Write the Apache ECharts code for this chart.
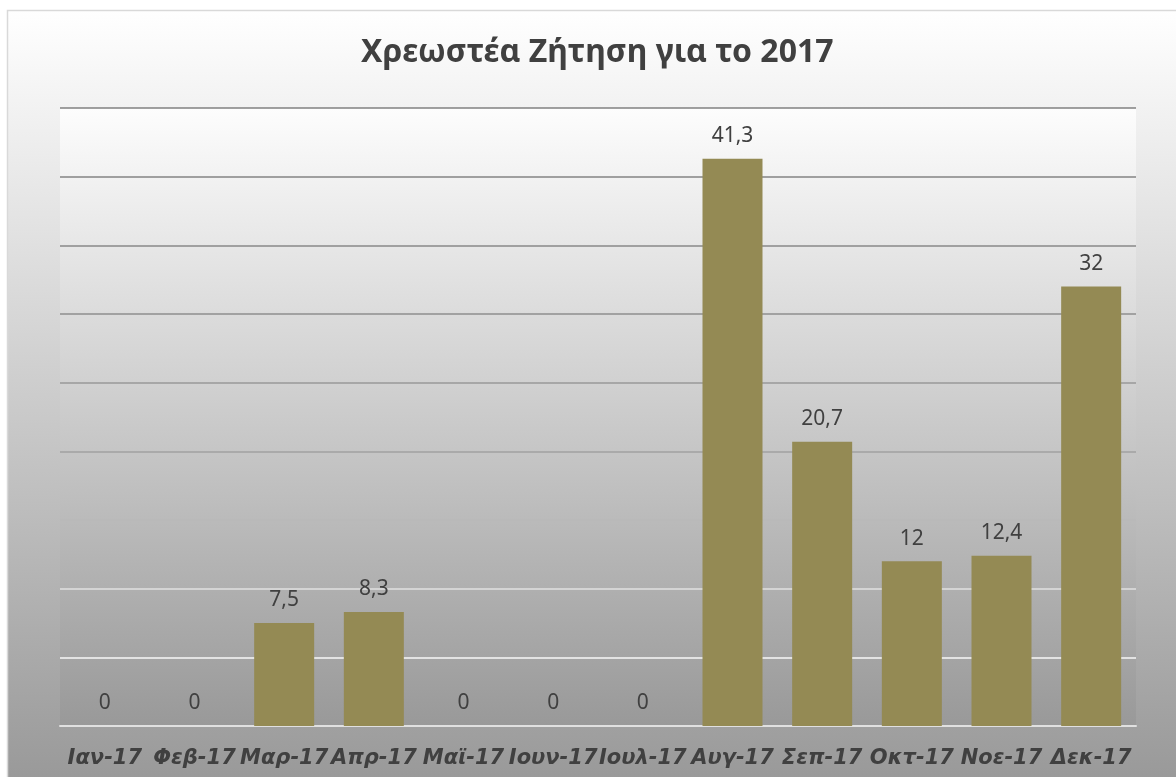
<!DOCTYPE html>
<html>
<head>
<meta charset="utf-8">
<style>
html,body{margin:0;padding:0;background:#fff;}
#chart{width:1176px;height:777px;}
</style>
<script src="https://cdn.jsdelivr.net/npm/echarts@6/dist/echarts.min.js"></script>
</head>
<body>
<div id="chart"></div>
<script>
const titleText = 'Χρεωστέα Ζήτηση για το 2017';
const categories = ['Ιαν-17','Φεβ-17','Μαρ-17','Απρ-17','Μαϊ-17','Ιουν-17','Ιουλ-17','Αυγ-17','Σεπ-17','Οκτ-17','Νοε-17','Δεκ-17'];
const values = [0, 0, 7.5, 8.3, 0, 0, 0, 41.3, 20.7, 12, 12.4, 32];
const yMin = 0, yMax = 45, yInterval = 5;
const gridColors = ['#e2e2e2','#f8f8f8','#e0e0e0','#b9b9b9','#a0a0a0','#999999','#8f8f8f','#888888','#838383','#808080'];

const chart = echarts.init(document.getElementById('chart'), null, {renderer:'canvas'});
const LG = echarts.graphic.LinearGradient;
chart.setOption({
  animation: false,
  graphic: [{
    type: 'rect', z: -10, silent: true,
    shape: {x: 7.5, y: 10.5, width: 1200, height: 800},
    style: {fill: new LG(0,0,0,1,[{offset:0,color:'#ffffff'},{offset:1,color:'#959595'}]), stroke:'#d9d9d9', lineWidth: 1.5}
  }],
  title: {
    text: titleText, left: 361, top: 37, padding: 0, textAlign: 'left',
    textStyle: {fontFamily: 'Noto Sans', fontWeight: 'bold', fontSize: 32, color: '#404040'}
  },
  grid: {
    left: 60, right: 40, top: 108, bottom: 51, show: true, borderWidth: 0,
    backgroundColor: new LG(0,0,0,1,[{offset:0,color:'#fdfdfd'},{offset:1,color:'#999999'}])
  },
  xAxis: {
    type: 'category', data: categories,
    axisLine: {lineStyle: {color: '#e0e0e0', width: 2}},
    axisTick: {show: false},
    axisLabel: {interval: 0, margin: 22, fontFamily: 'DejaVu Sans', fontWeight: 'bold', fontStyle: 'italic', fontSize: 21, color: '#404040'}
  },
  yAxis: {
    type: 'value', min: yMin, max: yMax, interval: yInterval,
    axisLabel: {show: false}, axisLine: {show: false}, axisTick: {show: false},
    splitLine: {show: true, lineStyle: {color: gridColors, width: 1.5}}
  },
  series: [{
    type: 'bar', data: values, barWidth: 60,
    itemStyle: {color: '#948a54'},
    label: {
      show: true, position: 'top', distance: 12,
      fontFamily: 'Noto Sans', fontSize: 21, color: '#404040',
      formatter: p => String(p.value).replace('.', ',')
    }
  }]
});
</script>
</body>
</html>
